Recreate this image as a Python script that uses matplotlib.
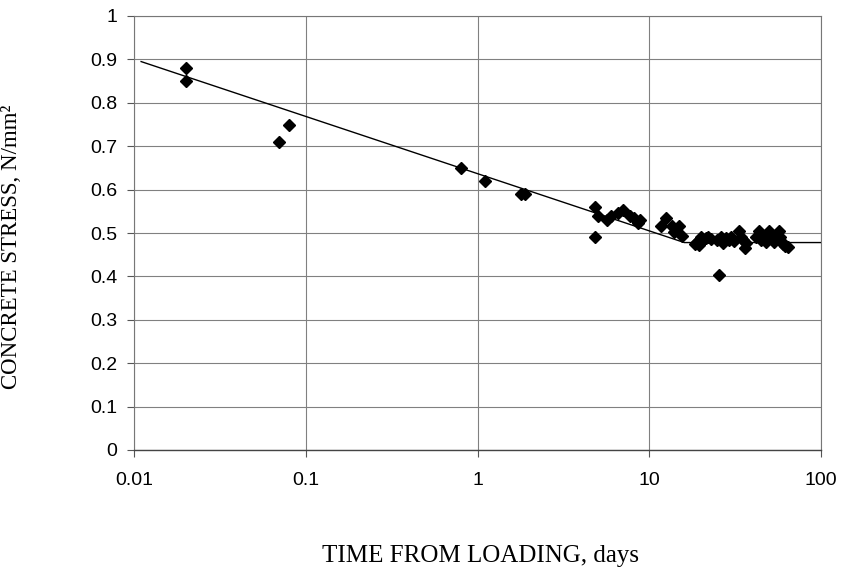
import matplotlib
matplotlib.use("Agg")
import matplotlib.pyplot as plt

# Measured data (days, N/mm^2)
time_days = [0.02, 0.02, 0.07, 0.08, 0.8, 1.1, 1.8, 1.9,
             4.8, 5.0, 4.8, 5.7, 6.0, 6.6, 7.0, 7.7, 8.2, 8.6, 8.8,
             11.7, 12.5, 13.6, 14.0, 14.9, 15.6,
             18.5, 19.0, 19.5, 20.0, 20.5, 21.3, 22.0, 23.0,
             24.8, 25.5, 26.0, 27.0, 28.0, 29.0, 30.0, 31.0,
             33.4, 34.0, 35.0, 36.0, 36.5,
             42.0, 43.7, 45.0, 47.0, 48.0, 49.9, 51.0, 53.0, 55.0,
             57.0, 58.0, 59.0, 60.0, 62.0, 64.0]
stress = [0.88, 0.85, 0.71, 0.75, 0.65, 0.62, 0.59, 0.59,
          0.56, 0.54, 0.49, 0.53, 0.54, 0.545, 0.553, 0.54, 0.534, 0.522, 0.53,
          0.515, 0.534, 0.515, 0.503, 0.516, 0.493,
          0.475, 0.48, 0.472, 0.49, 0.485, 0.488, 0.49, 0.487,
          0.485, 0.403, 0.49, 0.478, 0.488, 0.485, 0.49, 0.482,
          0.505, 0.49, 0.485, 0.465, 0.478,
          0.49, 0.505, 0.485, 0.49, 0.48, 0.505, 0.49, 0.48, 0.49,
          0.505, 0.49, 0.48, 0.475, 0.47, 0.468]

# Fitted line
line_x = [0.011, 16.0, 100.0]
line_y = [0.895, 0.478, 0.478]

x_ticks = [0.01, 0.1, 1, 10, 100]
x_tick_labels = ["0.01", "0.1", "1", "10", "100"]
y_ticks = [0, 0.1, 0.2, 0.3, 0.4, 0.5, 0.6, 0.7, 0.8, 0.9, 1]
y_tick_labels = ["0", "0.1", "0.2", "0.3", "0.4", "0.5", "0.6", "0.7", "0.8", "0.9", "1"]

fig = plt.figure(figsize=(8.41, 5.68), dpi=100)
ax = fig.add_axes([134/841, 1 - 450/568, (821 - 134)/841, (450 - 16)/568])

ax.set_xscale("log")
ax.set_xlim(0.01, 100)
ax.set_ylim(0, 1)

ax.grid(True, which="major", axis="both", color="#808080", linewidth=0.8)
ax.set_axisbelow(True)

ax.plot(line_x, line_y, color="black", linewidth=1.0, zorder=3)
ax.plot(time_days, stress, linestyle="none", marker="D", markersize=5.8,
        color="black", zorder=4)

ax.set_xticks(x_ticks)
ax.set_xticklabels(x_tick_labels)
ax.set_yticks(y_ticks)
ax.set_yticklabels(y_tick_labels)
ax.minorticks_off()
ax.tick_params(axis="both", which="major", direction="out", length=5,
               width=0.8, color="#555555", labelsize=14)
ax.tick_params(axis="x", pad=11)
ax.tick_params(axis="y", pad=7)
for lab in ax.get_xticklabels() + ax.get_yticklabels():
    lab.set_fontfamily("Liberation Sans")

for side in ["top", "right", "left"]:
    ax.spines[side].set_color("#777777")
    ax.spines[side].set_linewidth(0.8)
    ax.spines[side].set_linestyle((0, (1, 1)))
ax.spines["bottom"].set_color("#444444")
ax.spines["bottom"].set_linewidth(1.0)

ax.set_xlabel("TIME FROM LOADING, days", family="Liberation Serif", fontsize=18)
ax.set_ylabel("CONCRETE STRESS, N/mm\u00b2", family="Liberation Serif", fontsize=16.5)
ax.xaxis.set_label_coords(0.505, -0.219)
ax.yaxis.set_label_coords(-0.163, 0.468)

fig.savefig("out.png", dpi=100)
